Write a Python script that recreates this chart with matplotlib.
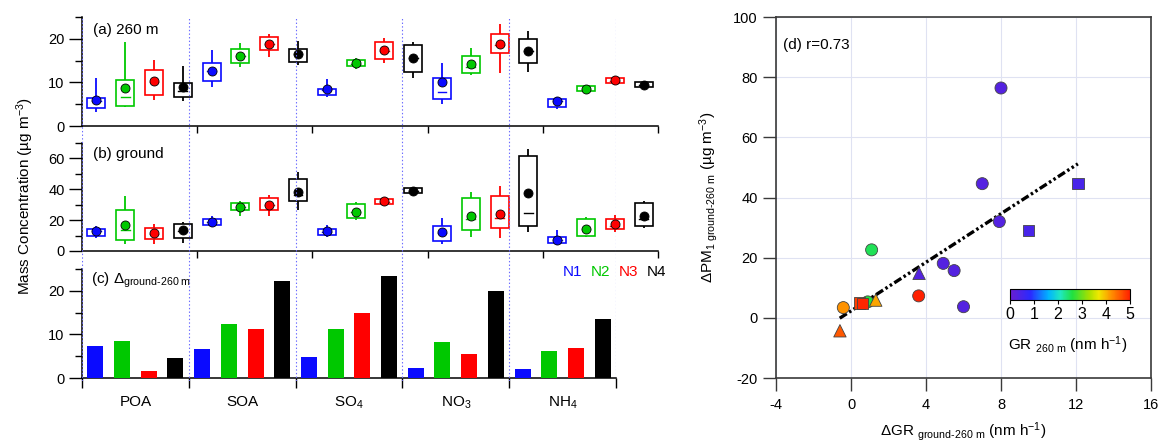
import numpy as np
import matplotlib
matplotlib.use("Agg")
import matplotlib.pyplot as plt
from matplotlib.colors import LinearSegmentedColormap, Normalize
from matplotlib.cm import ScalarMappable

plt.rcParams['font.family'] = ['Liberation Sans', 'DejaVu Sans']
plt.rcParams['mathtext.fontset'] = 'custom'
plt.rcParams['mathtext.rm'] = 'Liberation Sans'
plt.rcParams['mathtext.it'] = 'Liberation Sans:italic'
plt.rcParams['mathtext.bf'] = 'Liberation Sans:bold'
plt.rcParams['lines.scale_dashes'] = False
plt.rcParams['axes.unicode_minus'] = False
FS = 10.5

# ---------------- data ----------------
species = ['POA', 'SOA', 'SO$_4$', 'NO$_3$', 'NH$_4$']
cases = ['N1', 'N2', 'N3', 'N4']
case_colors = ['#0a0aff', '#00c800', '#ff0000', '#000000']

# panel (a) 260 m : order species x cases
a_mean = [5.9, 8.8, 10.3, 8.85, 12.6, 16.05, 18.8, 16.5, 8.4, 14.4, 17.4, 15.7,
          10.15, 14.2, 18.7, 17.3, 5.8, 8.55, 10.45, 9.45]
a_median = [5.7, 6.55, 10.2, 8.1, 12.5, 16.0, 18.8, 16.4, 8.3, 14.3, 17.3, 15.6,
            7.7, 13.5, 18.6, 17.2, 5.7, 8.5, 10.4, 9.4]
a_q75 = [6.5, 10.5, 12.8, 9.9, 14.5, 17.6, 20.3, 17.7, 8.5, 15.1, 19.3, 18.6,
         11.1, 16.05, 21.0, 20.0, 6.1, 9.15, 11.1, 10.1]
a_q25 = [4.2, 4.6, 7.2, 6.7, 10.3, 14.4, 17.4, 14.7, 7.0, 13.75, 15.4, 12.45,
         6.1, 12.2, 16.7, 14.4, 4.3, 8.0, 9.8, 8.85]
a_max = [10.9, 19.3, 15.1, 13.75, 17.4, 19.0, 21.1, 19.5, 10.8, 15.7, 20.2, 19.2,
         14.4, 18.0, 23.3, 21.9, 6.7, 9.3, 11.5, 10.3]
a_min = [3.3, 4.25, 5.9, 5.7, 9.0, 13.6, 15.9, 13.9, 6.7, 13.0, 14.5, 10.9,
         5.0, 11.7, 12.2, 12.3, 4.0, 7.8, 9.3, 8.6]

# panel (b) ground
b_mean = [13.25, 17.0, 11.5, 13.3, 18.7, 28.5, 30.0, 38.4, 12.8, 25.6, 32.1, 38.9,
          12.0, 22.4, 24.1, 37.4, 7.2, 14.3, 17.2, 23.0]
b_median = [13.0, 13.7, 11.3, 13.0, 18.6, 28.3, 29.8, 36.0, 12.6, 25.4, 32.0, 38.8,
            11.8, 21.0, 21.1, 24.6, 7.0, 14.0, 16.5, 20.7]
b_q75 = [14.5, 26.7, 15.2, 17.8, 20.6, 31.1, 34.1, 46.5, 14.5, 30.6, 33.9, 40.8,
         15.9, 34.3, 35.7, 61.7, 8.9, 20.7, 20.7, 31.1]
b_q25 = [9.8, 7.2, 7.6, 8.3, 16.9, 26.3, 26.7, 32.4, 10.4, 21.3, 30.6, 37.6,
         6.5, 13.7, 15.0, 15.9, 5.0, 10.0, 14.1, 15.9]
b_max = [16.5, 35.9, 17.4, 18.9, 22.8, 32.6, 36.1, 51.3, 16.9, 31.5, 34.5, 41.5,
         21.3, 38.0, 42.0, 65.9, 13.7, 22.0, 23.3, 32.2]
b_min = [8.25, 4.35, 4.6, 5.4, 15.4, 22.4, 22.4, 26.3, 9.3, 20.2, 30.0, 37.0,
         4.6, 9.3, 8.7, 12.6, 3.9, 8.9, 12.6, 14.6]

# panel (c) difference ground - 260 m, per case over species
d_N1 = [7.3, 6.7, 4.8, 2.4, 2.1]
d_N2 = [8.5, 12.4, 11.2, 8.15, 6.15]
d_N3 = [1.5, 11.2, 15.0, 5.5, 6.85]
d_N4 = [4.6, 22.2, 23.5, 19.9, 13.5]

# panel (d) scatter
circ_x = [8.0, 7.0, 7.91, 1.1, 4.92, 5.5, 6.0, 3.61, -0.41, 0.89]
circ_y = [76.4, 44.6, 32.0, 22.6, 18.1, 15.7, 3.7, 7.3, 3.4, 5.3]
circ_gr = [0.3, 0.3, 0.3, 2.5, 0.3, 0.3, 0.3, 5.0, 4.2, 2.6]
sq_x = [12.12, 9.46, 0.45, 0.62]
sq_y = [44.6, 29.0, 5.0, 4.8]
sq_gr = [0.45, 0.45, 4.8, 4.95]
tri_x = [3.63, -0.59, 1.32]
tri_y = [14.8, -4.3, 5.9]
tri_gr = [0.3, 4.6, 4.1]
fit_slope = 4.04
fit_intercept = 2.3
fit_x = [-0.6, 12.1]

# ---------------- figure ----------------
W, H = 1161, 444
fig = plt.figure(figsize=(W / 100, H / 100), dpi=100)


def px(l, t, r, b):
    return [l / W, 1 - b / H, (r - l) / W, (b - t) / H]


ax_a = fig.add_axes(px(82, 17, 658, 126))
ax_b = fig.add_axes(px(82, 143, 658, 251))
ax_c = fig.add_axes(px(82, 269, 616, 378))
ax_d = fig.add_axes(px(776, 17, 1151, 378))


def style_left(ax, ylim, major, minor):
    for s in ['top', 'right']:
        ax.spines[s].set_visible(False)
    for s in ['left', 'bottom']:
        ax.spines[s].set_linewidth(1.1)
    ax.set_ylim(*ylim)
    ax.set_yticks(major)
    ax.set_yticks(minor, minor=True)
    ax.tick_params(axis='y', which='major', direction='out', length=9.5, width=1.0,
                   labelsize=FS, pad=3)
    ax.tick_params(axis='y', which='minor', direction='out', length=5, width=1.0)
    ax.patch.set_alpha(0)


def boxes(ax, mean, med, q25, q75, vmin, vmax):
    n = len(mean)
    pos = np.arange(n) + 0.5
    bw = 0.62
    for i in range(n):
        c = case_colors[i % 4]
        x = pos[i]
        ax.plot([x, x], [q75[i], vmax[i]], color=c, lw=1.3, solid_capstyle='butt', zorder=2)
        ax.plot([x, x], [vmin[i], q25[i]], color=c, lw=1.3, solid_capstyle='butt', zorder=2)
        ax.add_patch(plt.Rectangle((x - bw / 2, q25[i]), bw, q75[i] - q25[i],
                                   facecolor='white', edgecolor=c, lw=1.2, zorder=3))
        ax.plot([x - bw / 4, x + bw / 4], [med[i], med[i]], color=c, lw=1.0, zorder=4)
        ax.plot([x], [mean[i]], 'o', ms=6.5, mfc=c, mec='black', mew=0.6, zorder=5)
    ax.set_xlim(0, 20)
    ax.set_xticks([4, 8, 12, 16, 20])
    ax.set_xticklabels([])
    ax.tick_params(axis='x', direction='out', length=5, width=1.0)


style_left(ax_a, (0, 25), [0, 10, 20], [5, 15, 25])
boxes(ax_a, a_mean, a_median, a_q25, a_q75, a_min, a_max)
ax_a.text(0.019, 0.88, '(a) 260 m', transform=ax_a.transAxes, fontsize=FS + 0.5,
          va='center', ha='left')

style_left(ax_b, (0, 70), [0, 20, 40, 60], [10, 30, 50, 70])
boxes(ax_b, b_mean, b_median, b_q25, b_q75, b_min, b_max)
ax_b.text(0.019, 0.9, '(b) ground', transform=ax_b.transAxes, fontsize=FS + 0.5,
          va='center', ha='left')

style_left(ax_c, (0, 25), [0, 10, 20], [5, 15, 25])
diffs = [d_N1, d_N2, d_N3, d_N4]
base = np.arange(len(species)) * 4
for j, d in enumerate(diffs):
    ax_c.bar(base + j + 0.5, d, width=0.6, color=case_colors[j], edgecolor='none', zorder=3)
ax_c.set_xlim(0, 20)
ax_c.set_xticks([0, 4, 8, 12, 16, 20])
ax_c.set_xticklabels([])
ax_c.tick_params(axis='x', which='major', direction='out', length=7, width=1.0)
ax_c.set_xticks(base + 2, minor=True)
ax_c.set_xticklabels(species, minor=True, fontsize=FS + 0.5)
ax_c.tick_params(axis='x', which='minor', length=0, pad=12)
ax_c.text(0.016, 0.9, r'(c) $\Delta_{\mathrm{ground\text{-}260\ m}}$', transform=ax_c.transAxes,
          fontsize=FS + 0.5, va='center', ha='left')

# N1..N4 legend text
leg_x = [563, 591, 619, 647]
for j, name in enumerate(cases):
    fig.text(leg_x[j] / W, 1 - 272 / H, name, color=case_colors[j], fontsize=FS + 0.5,
             ha='left', va='center')

fig.text(25 / W, 1 - 196 / H, 'Mass Concentration (µg m$^{-3}$)', rotation=90,
         fontsize=FS + 0.5, ha='center', va='center')

# dotted separators across all three panels
ov = fig.add_axes(px(82, 17, 616, 381))
ov.set_xlim(0, 20)
ov.set_ylim(0, 1)
ov.axis('off')
for xv in [0, 4, 8, 12, 16, 20]:
    ov.axvline(xv, color='#6b6bff', lw=0.8, ls=(0, (1, 1.6)), zorder=10)

# ---------------- panel (d) ----------------
cmap = LinearSegmentedColormap.from_list('gr', [
    (0.0, '#6a1ed0'), (0.17, '#2a2aff'), (0.32, '#00b4ff'), (0.42, '#20e8c0'),
    (0.52, '#20e040'), (0.66, '#a8e000'), (0.74, '#f0e800'), (0.85, '#ff8c00'),
    (1.0, '#ff2000')])
norm = Normalize(0, 5)

ax_d.set_xlim(-4, 16)
ax_d.set_ylim(-20, 100)
ax_d.set_xticks([-4, 0, 4, 8, 12, 16])
ax_d.set_yticks([-20, 0, 20, 40, 60, 80, 100])
ax_d.grid(True, color='#dfe2f2', lw=0.8, zorder=0)
for s in ax_d.spines.values():
    s.set_color('#3a3a3a')
    s.set_linewidth(1.2)
ax_d.tick_params(direction='out', length=9.5, width=1.0, labelsize=FS, color='#3a3a3a')
ax_d.tick_params(axis='x', pad=5)

fx = np.array(fit_x)
ax_d.plot(fx, fit_slope * fx + fit_intercept, color='black', lw=2.4,
          dashes=[6, 2, 1.8, 2, 1.8, 2], zorder=3)

kw = dict(cmap=cmap, norm=norm, edgecolors='#444444', linewidths=0.6, zorder=4)
ax_d.scatter(circ_x, circ_y, c=circ_gr, marker='o', s=75, **kw)
ax_d.scatter(sq_x, sq_y, c=sq_gr, marker='s', s=70, **kw)
ax_d.scatter(tri_x, tri_y, c=tri_gr, marker='^', s=80, **kw)

ax_d.text(0.019, 0.922, '(d) r=0.73', transform=ax_d.transAxes, fontsize=FS + 0.5,
          ha='left', va='center')
ax_d.set_ylabel(r'$\Delta$PM$_{1\ \mathrm{ground\text{-}260\ m}}$ (µg m$^{-3}$)', fontsize=FS + 0.5)
ax_d.yaxis.set_label_coords(-0.148, 0.5)
ax_d.set_xlabel(r'$\Delta$GR $_{\mathrm{ground\text{-}260\ m}}$ (nm h$^{-1}$)', fontsize=FS + 0.5)
ax_d.xaxis.set_label_coords(0.5, -0.118)

cax = fig.add_axes(px(1010, 289, 1130, 300))
cb = fig.colorbar(ScalarMappable(norm=norm, cmap=cmap), cax=cax, orientation='horizontal')
cb.set_ticks([0, 1, 2, 3, 4, 5])
cb.outline.set_linewidth(0.8)
cax.tick_params(labelsize=FS + 1, length=3, width=0.8, pad=2)
fig.text(1068 / W, 1 - 345 / H, r'GR $_{\mathrm{260\ m}}$ (nm h$^{-1}$)', fontsize=FS + 0.5,
         ha='center', va='center')

fig.savefig('out.png', dpi=100)
